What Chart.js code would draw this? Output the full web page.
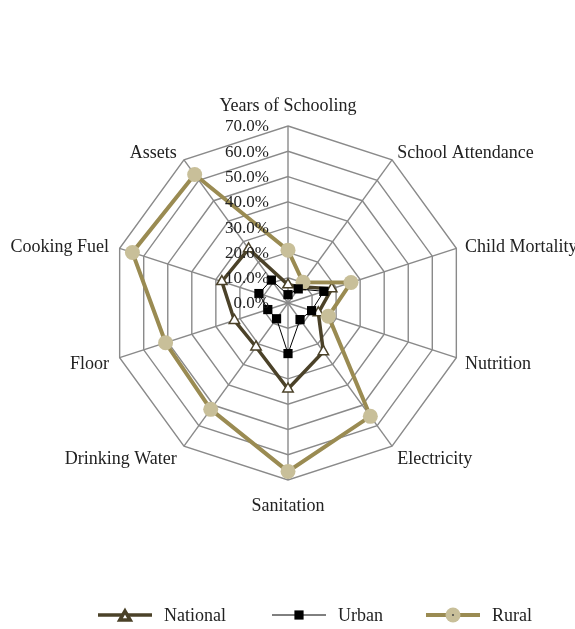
<!DOCTYPE html>
<html>
<head>
<meta charset="utf-8">
<script src="https://cdn.jsdelivr.net/npm/chart.js@4.4.1/dist/chart.umd.min.js"></script>
<style>
    html, body { margin: 0; padding: 0; background: #fff; overflow: hidden; }
    #wrap { position: relative; width: 575px; height: 629px; }
    #legend { position: absolute; left: 0; top: 0; width: 575px; height: 629px; pointer-events: none; }
    .leg-item { position: absolute; top: 605px; height: 20px; display: flex; align-items: center;
        font-family: "Liberation Serif", serif; font-size: 18px; color: #222; white-space: nowrap; }
    .leg-item canvas { display: block; }
</style>
</head>
<body>
<div id="wrap">
    <canvas id="radarChart" width="575" height="629"></canvas>
    <div id="legend"></div>
</div>
<script>
const categories = ['Years of Schooling', 'School Attendance', 'Child Mortality', 'Nutrition', 'Electricity',
    'Sanitation', 'Drinking Water', 'Floor', 'Cooking Fuel', 'Assets'];
const seriesNames = ['National', 'Urban', 'Rural'];
const nationalValues = [7.2, 8.0, 18.2, 12.6, 23.8, 34.0, 21.5, 22.3, 27.5, 26.5];
const urbanValues = [3.3, 6.9, 14.9, 9.8, 8.1, 20.0, 7.7, 8.4, 12.1, 11.2];
const ruralValues = [20.9, 10.1, 26.2, 16.8, 55.4, 66.6, 52.0, 50.9, 64.7, 62.8];
const tickValues = [0, 10, 20, 30, 40, 50, 60, 70];

const TICK_FONT = '17px "Liberation Serif", serif';
const LABEL_FONT = '18px "Liberation Serif", serif';
const TEXT_COLOR = '#222';

// tick labels sit left of the vertical axis, point labels outside the outer ring
const radarText = {
    id: 'radarText',
    afterDatasetsDraw(chart) {
        const scale = chart.scales.r;
        const ctx = chart.ctx;
        ctx.save();
        ctx.font = TICK_FONT;
        ctx.fillStyle = TEXT_COLOR;
        ctx.textAlign = 'right';
        ctx.textBaseline = 'middle';
        tickValues.forEach(v => {
            const y = scale.yCenter - scale.getDistanceFromCenterForValue(v);
            ctx.fillText(v.toFixed(1) + '%', scale.xCenter - 19, y + 1);
        });

        ctx.font = LABEL_FONT;
        categories.forEach((label, i) => {
            const pos = scale.getPointPosition(i, scale.drawingArea + 9);
            const dx = pos.x - scale.xCenter;
            const sin = Math.sin(pos.angle);
            let x = pos.x;
            let y = pos.y + 3 + 3 * sin;
            if (Math.abs(dx) < 1) {
                ctx.textAlign = 'center';
                y = sin < 0 ? pos.y - 11 : pos.y + 17;
            } else {
                ctx.textAlign = dx > 0 ? 'left' : 'right';
                if (dx < 0) x -= 2;
            }
            ctx.fillText(label, x, y);
        });
        ctx.restore();
    }
};

const styles = [
    { color: '#4b4229', width: 3.5, point: 'triangle', radius: 6, fill: '#ffffff', pointBorder: 1.5 },
    { color: '#000000', width: 1, point: 'rect', radius: 6.5, fill: '#000000', pointBorder: 0 },
    { color: '#9a8b52', width: 4, point: 'circle', radius: 7.5, fill: '#c8bf99', pointBorder: 0 }
];
const valueSets = [nationalValues, urbanValues, ruralValues];

const datasets = seriesNames.map((name, i) => ({
    label: name,
    data: valueSets[i],
    borderColor: styles[i].color,
    borderWidth: styles[i].width,
    pointStyle: styles[i].point,
    pointRadius: styles[i].radius,
    pointHoverRadius: styles[i].radius,
    pointBackgroundColor: styles[i].fill,
    pointBorderColor: styles[i].point === 'circle' ? styles[i].fill : styles[i].color,
    pointBorderWidth: styles[i].pointBorder,
    fill: false,
    order: [2, 0, 1][i]
}));

const chart = new Chart(document.getElementById('radarChart'), {
    type: 'radar',
    data: { labels: categories, datasets: datasets },
    options: {
        responsive: false,
        animation: false,
        devicePixelRatio: 1,
        layout: { padding: { left: 111, right: 110, top: 126, bottom: 149 } },
        plugins: {
            legend: { display: false },
            tooltip: { enabled: false }
        },
        scales: {
            r: {
                min: 0,
                max: 70,
                ticks: { display: false, stepSize: 10 },
                pointLabels: { display: false },
                grid: { color: '#8a8a8a', lineWidth: 1.4 },
                angleLines: { color: '#8a8a8a', lineWidth: 1.4 }
            }
        }
    },
    plugins: [radarText]
});

// legend in html, samples drawn like the series
const legendX = [97, 271, 425];
const legendEl = document.getElementById('legend');
chart.data.datasets.forEach((ds, i) => {
    const item = document.createElement('div');
    item.className = 'leg-item';
    item.style.left = legendX[i] + 'px';
    const c = document.createElement('canvas');
    c.width = 56; c.height = 20;
    c.style.marginRight = '11px';
    const g = c.getContext('2d');
    g.strokeStyle = ds.borderColor;
    g.lineWidth = ds.borderWidth;
    g.beginPath(); g.moveTo(1, 10); g.lineTo(55, 10); g.stroke();
    g.fillStyle = ds.pointBackgroundColor;
    g.strokeStyle = ds.pointBorderColor;
    const py = ds.pointStyle === 'triangle' ? 12 : 10;
    Chart.helpers.drawPoint(g, { pointStyle: ds.pointStyle, radius: ds.pointRadius, rotation: 0, borderWidth: ds.pointBorderWidth }, 28, py);
    if (ds.pointBorderWidth > 0) { g.lineWidth = ds.pointBorderWidth; g.stroke(); }
    if (ds.pointStyle === 'circle') {
        g.fillStyle = '#444';
        g.beginPath(); g.arc(28, 10, 1, 0, Math.PI * 2); g.fill();
    }
    item.appendChild(c);
    const span = document.createElement('span');
    span.textContent = ds.label;
    item.appendChild(span);
    legendEl.appendChild(item);
});
</script>
</body>
</html>
